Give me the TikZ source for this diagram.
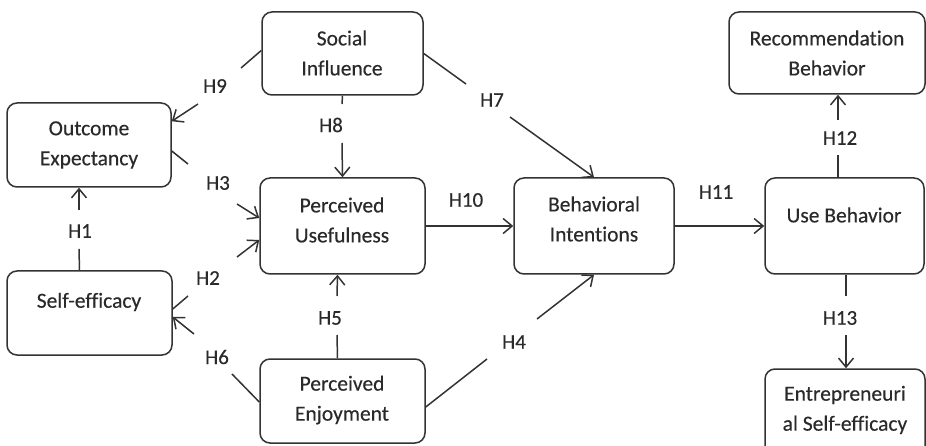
\documentclass[tikz,border=0pt]{standalone}
\usepackage{fontspec}
\setmainfont{Carlito}[Ligatures={NoCommon}, FakeBold=0.35]
\usetikzlibrary{arrows.meta}
\definecolor{ink}{HTML}{2A2A2A}
\definecolor{edge}{HTML}{333333}
\begin{document}
\begin{tikzpicture}[x=1pt,y=-1pt,
  box/.style={draw=edge, line width=1.5pt, rounded corners=10pt, rectangle, inner sep=0pt},
  txt/.style={text=ink, align=center, inner sep=0pt, font=\fontsize{21.5pt}{30pt}\selectfont},
  hyp/.style={text=ink, inner sep=0pt, font=\fontsize{21pt}{25pt}\selectfont},
  link/.style={draw=edge, line width=1.5pt},
  arr/.style={link, -{Straight Barb[length=9pt,width=15pt,line width=1.5pt]}}]
\useasboundingbox (0,0) rectangle (926,446);
\clip (0,0) rectangle (926,446);

% construct boxes
\node[box, minimum width=161pt, minimum height=83pt] (si) at (342.5,53.5) {};
\node[box, minimum width=164pt, minimum height=84pt] (oe) at (89,145) {};
\node[box, minimum width=165pt, minimum height=96pt] (pu) at (342.5,226) {};
\node[box, minimum width=165pt, minimum height=84pt] (se) at (89.5,313) {};
\node[box, minimum width=165pt, minimum height=84pt] (pe) at (342.5,401) {};
\node[box, minimum width=160pt, minimum height=96pt] (bi) at (594,226) {};
\node[box, minimum width=159pt, minimum height=96pt] (ub) at (844.5,226) {};
\node[box, minimum width=196pt, minimum height=82pt] (rb) at (827,53) {};
\node[box, minimum width=160pt, minimum height=92pt] (es) at (845,415) {};

% box captions
\node[txt] (si-t) at (342,53) {Social\\Influence};
\node[txt] (oe-t) at (89,145) {Outcome\\Expectancy};
\node[txt] (pu-t) at (342,220) {Perceived\\Usefulness};
\node[txt] (se-t) at (89,302) {Self-efficacy};
\node[txt] (pe-t) at (342,400) {Perceived\\Enjoyment};
\node[txt] (bi-t) at (594,219) {Behavioral\\Intentions};
\node[txt] (ub-t) at (844,215) {Use Behavior};
\node[txt] (rb-t) at (827,53) {Recommendation\\Behavior};
\node[txt] (es-t) at (845,410) {Entrepreneuri\\al Self-efficacy};

% hypothesis labels
\node[hyp] (l1) at (80,231) {H1};
\node[hyp] (l2) at (208,278) {H2};
\node[hyp] (l3) at (218,183) {H3};
\node[hyp] (l4) at (514,342) {H4};
\node[hyp] (l5) at (330,318) {H5};
\node[hyp] (l6) at (217,357) {H6};
\node[hyp] (l7) at (492,100) {H7};
\node[hyp] (l8) at (331,125) {H8};
\node[hyp] (l9) at (215,86) {H9};
\node[hyp] (l10) at (466,200) {H10};
\node[hyp] (l11) at (716,192) {H11};
\node[hyp] (l12) at (840,138) {H12};
\node[hyp] (l13) at (840,318) {H13};

% break points around the labels
\coordinate (h1a) at (79,249);  \coordinate (h1b) at (79,210);
\coordinate (h2a) at (188,296); \coordinate (h2b) at (237,257);
\coordinate (h3a) at (188,164); \coordinate (h3b) at (237,204);
\coordinate (h4a) at (487,359); \coordinate (h4b) at (537,319);
\coordinate (h5a) at (337,335); \coordinate (h5b) at (337,296);
\coordinate (h6a) at (232,374); \coordinate (h6b) at (194,334);
\coordinate (h7a) at (466,84);  \coordinate (h7b) at (510,117);
\coordinate (h8a) at (342,104); \coordinate (h8b) at (342,143);
\coordinate (h9a) at (241,68);  \coordinate (h9b) at (198,104);
\coordinate (h12a) at (838,155); \coordinate (h12b) at (838,120);
\coordinate (h13a) at (846,296); \coordinate (h13b) at (846,335);

% paths
\draw[link] ([xshift=-10pt]se.north) -- (h1a);
\draw[arr] (h1b) -- ([xshift=-10pt]oe.south);
\draw[link] ([yshift=4pt]se.east) -- (h2a);
\draw[arr] (h2b) -- ([yshift=-14pt]pu.west);
\draw[link] ([yshift=-6pt]oe.east) -- (h3a);
\draw[arr] (h3b) -- ([yshift=8pt]pu.west);
\draw[link] ([yshift=-6pt]pe.east) -- (h4a);
\draw[arr] (h4b) -- (bi.south);
\draw[link] ([xshift=-5pt]pe.north) -- (h5a);
\draw[arr] (h5b) -- ([xshift=-5pt]pu.south);
\draw[link] ([yshift=-1pt]pe.west) -- (h6a);
\draw[arr] (h6b) -- ([yshift=-4pt]se.east);
\draw[link] (si.east) -- (h7a);
\draw[arr] (h7b) -- (bi.north);
\draw[link] (si.south) -- (h8a);
\draw[arr] (h8b) -- (pu.north);
\draw[link] ([yshift=3pt]si.west) -- (h9a);
\draw[arr] (h9b) -- ([yshift=-19pt]oe.north east);
\draw[arr] (pu.east) -- (bi.west);
\draw[arr] (bi.east) -- (ub.west);
\draw[link] ([xshift=-6.5pt]ub.north) -- (h12a);
\draw[arr] (h12b) -- ([xshift=11pt]rb.south);
\draw[link] ([xshift=1.5pt]ub.south) -- (h13a);
\draw[arr] (h13b) -- ([xshift=1pt]es.north);
\end{tikzpicture}
\end{document}
